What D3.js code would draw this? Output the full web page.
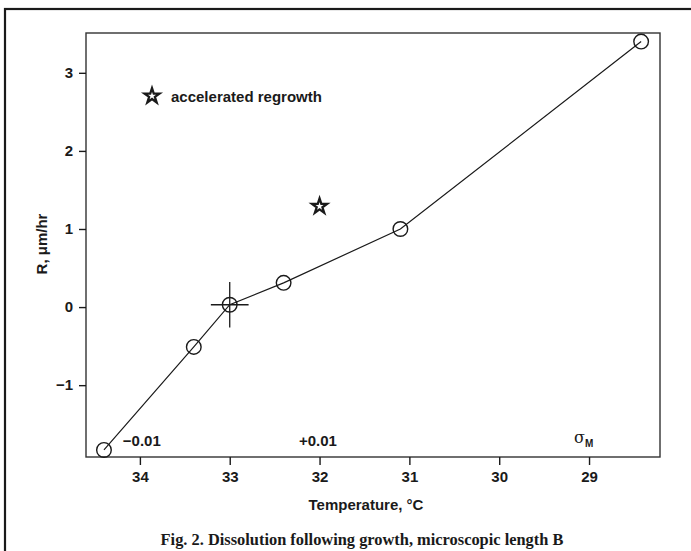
<!DOCTYPE html>
<html><head><meta charset="utf-8">
<script src="https://cdn.jsdelivr.net/npm/d3@7"></script>
<style>body{margin:0;background:#fff}svg{display:block}</style>
</head><body>
<svg id="c" width="691" height="551"></svg>
<script>
// Data
const temps = [34.4, 33.4, 33.0, 32.4, 31.1, 28.42];
const rates = [-1.83, -0.51, 0.03, 0.31, 1.0, 3.4];
const errT = [0, 0, 0.21, 0, 0, 0];
const errR = [0, 0, 0.29, 0, 0, 0];
const starT = [32.0];
const starR = [1.29];
const xTicks = [34, 33, 32, 31, 30, 29];
const yTicks = [-1, 0, 1, 2, 3];
const sigmaLabels = [{t: 34.19, text: "\u22120.01"}, {t: 32.23, text: "+0.01"}];

const svg = d3.select("#c");
const L = 86, R = 660, T = 33, B = 457;
const x = d3.scaleLinear().domain([34.6, 28.21]).range([L, R]);
const y = d3.scaleLinear().domain([-1.92, 3.51]).range([B, T]);
const ink = "#1a1a1a";
const sans = "'Liberation Sans', Arial, sans-serif";

// outer frame
svg.append("rect").attr("x", 5).attr("y", 9).attr("width", 720).attr("height", 580)
  .attr("fill", "none").attr("stroke", ink).attr("stroke-width", 2.2);

// plot box
svg.append("rect").attr("x", L).attr("y", T).attr("width", R - L).attr("height", B - T)
  .attr("fill", "none").attr("stroke", "#333").attr("stroke-width", 1.4);

// axes
const xa = svg.append("g").attr("transform", `translate(0,${B})`)
  .call(d3.axisBottom(x).tickValues(xTicks).tickSize(8).tickPadding(6).tickFormat(d3.format("d")));
const ya = svg.append("g").attr("transform", `translate(${L},0)`)
  .call(d3.axisLeft(y).tickValues(yTicks).tickSize(7).tickPadding(6)
    .tickFormat(d => d < 0 ? "\u2212" + Math.abs(d) : d));
[xa, ya].forEach(g => {
  g.select(".domain").remove();
  g.selectAll("line").attr("stroke", ink).attr("stroke-width", 1.4);
  g.selectAll("text").attr("fill", ink).attr("font-family", sans)
    .attr("font-weight", "bold").attr("font-size", 15);
});

// line
const pts = temps.map((t, i) => ({t, r: rates[i], et: errT[i], er: errR[i]}));
svg.append("path").datum(pts)
  .attr("d", d3.line().x(d => x(d.t)).y(d => y(d.r)))
  .attr("fill", "none").attr("stroke", ink).attr("stroke-width", 1.2);

// error bars
const eb = pts.filter(d => d.et > 0 || d.er > 0);
svg.selectAll(".ebh").data(eb).join("line")
  .attr("x1", d => x(d.t - d.et)).attr("x2", d => x(d.t + d.et))
  .attr("y1", d => y(d.r)).attr("y2", d => y(d.r))
  .attr("stroke", ink).attr("stroke-width", 1.3);
svg.selectAll(".ebv").data(eb).join("line")
  .attr("x1", d => x(d.t)).attr("x2", d => x(d.t))
  .attr("y1", d => y(d.r - d.er)).attr("y2", d => y(d.r + d.er))
  .attr("stroke", ink).attr("stroke-width", 1.3);

// circles
svg.selectAll(".pt").data(pts).join("circle")
  .attr("cx", d => x(d.t)).attr("cy", d => y(d.r)).attr("r", 7.3)
  .attr("fill", "none").attr("stroke", ink).attr("stroke-width", 1.4);

// stars
const star = d3.symbol().type(d3.symbolStar).size(70);
svg.selectAll(".st").data(starT.map((t, i) => ({t, r: starR[i]}))).join("path")
  .attr("d", star).attr("transform", d => `translate(${x(d.t)},${y(d.r)})`)
  .attr("fill", "#fff").attr("stroke", ink).attr("stroke-width", 2.3);

// legend
svg.append("path").attr("d", star).attr("transform", "translate(152,96)")
  .attr("fill", "#fff").attr("stroke", ink).attr("stroke-width", 2.3);
svg.append("text").attr("x", 171).attr("y", 102).text("accelerated regrowth")
  .attr("font-family", sans).attr("font-weight", "bold").attr("font-size", 15).attr("fill", ink);

// sigma annotations
svg.selectAll(".sg").data(sigmaLabels).join("text")
  .attr("x", d => x(d.t)).attr("y", 446).text(d => d.text)
  .attr("font-family", sans).attr("font-weight", "bold").attr("font-size", 15).attr("fill", ink);
const sm = svg.append("text").attr("x", 574).attr("y", 443)
  .attr("font-family", "'DejaVu Serif', serif").attr("font-size", 16).attr("fill", ink);
sm.append("tspan").text("\u03c3");
sm.append("tspan").text("M").attr("dy", 4).attr("font-size", 10).attr("font-family", sans).attr("font-weight", "bold");

// axis titles
svg.append("text").attr("x", 366).attr("y", 510).attr("text-anchor", "middle")
  .text("Temperature, \u00b0C")
  .attr("font-family", sans).attr("font-weight", "bold").attr("font-size", 15).attr("fill", ink);
svg.append("text").attr("transform", "translate(47,244) rotate(-90)").attr("text-anchor", "middle")
  .text("R, \u03bcm/hr")
  .attr("font-family", sans).attr("font-weight", "bold").attr("font-size", 15).attr("fill", ink);

// caption
svg.append("text").attr("x", 362).attr("y", 545).attr("text-anchor", "middle")
  .text("Fig. 2. Dissolution following growth, microscopic length B")
  .attr("font-family", "'Liberation Serif', 'Times New Roman', serif").attr("font-weight", "bold")
  .attr("font-size", 16.4).attr("fill", ink);
</script>
</body></html>
